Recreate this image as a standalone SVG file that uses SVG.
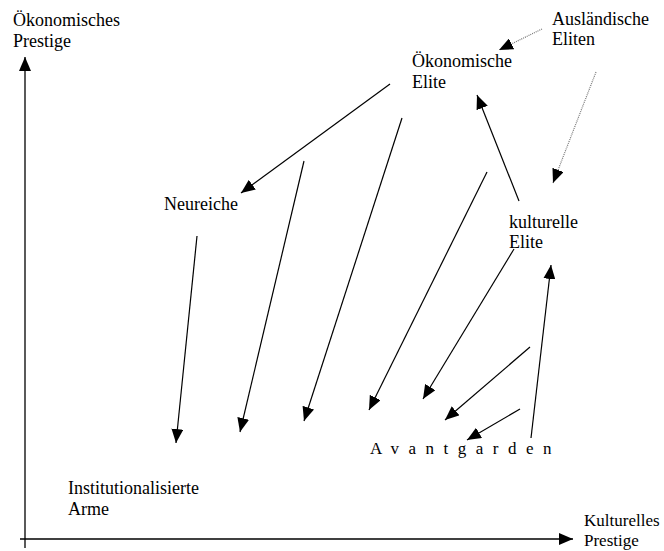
<svg xmlns="http://www.w3.org/2000/svg" width="664" height="551" viewBox="0 0 664 551">
<style>
text{font-family:"Liberation Serif","Times New Roman",serif;font-size:18px;fill:#000}
.c{stroke:#000;stroke-width:1.2;fill:none;marker-end:url(#ah)}
.d{stroke:#777;stroke-width:1.2;stroke-dasharray:1 1;fill:none;marker-end:url(#ah)}
.ax{stroke:#000;stroke-width:1.3;fill:none;marker-end:url(#ah)}
</style>
<defs>
<marker id="ah" viewBox="0 0 14 12" refX="14" refY="6" markerWidth="14" markerHeight="12" markerUnits="userSpaceOnUse" orient="auto">
<path d="M0,0 L14,6 L0,12 z" fill="#000"/>
</marker>
</defs>
<rect width="664" height="551" fill="#fff"/>
<g id="axes">
<line class="ax" x1="25" y1="548" x2="25" y2="57"/>
<line class="ax" x1="20" y1="539" x2="573" y2="539"/>
</g>
<g id="connectors">
<line class="d" x1="542" y1="29" x2="499" y2="50"/>
<line class="d" x1="596" y1="72" x2="553" y2="183"/>
<line class="c" x1="390" y1="84" x2="241" y2="193"/>
<line class="c" x1="402" y1="118" x2="304" y2="421"/>
<line class="c" x1="304" y1="161" x2="240" y2="432"/>
<line class="c" x1="197" y1="236" x2="176" y2="443"/>
<line class="c" x1="487" y1="172" x2="369" y2="410"/>
<line class="c" x1="519" y1="201" x2="477" y2="95"/>
<line class="c" x1="514" y1="249" x2="423" y2="399"/>
<line class="c" x1="530" y1="347" x2="445" y2="420"/>
<line class="c" x1="520" y1="409" x2="467" y2="440"/>
<line class="c" x1="531" y1="438" x2="551" y2="265"/>
</g>
<g id="y-label"><text x="13" y="26">Ökonomisches</text><text x="13" y="47">Prestige</text></g>
<g id="x-label" style="font-size:17px"><text x="584" y="526" style="font-size:17px">Kulturelles</text><text x="584" y="546" style="font-size:17px">Prestige</text></g>
<g id="auslaendische-eliten"><text x="552" y="25">Ausländische</text><text x="552" y="45">Eliten</text></g>
<g id="oekonomische-elite"><text x="412" y="67">Ökonomische</text><text x="412" y="88">Elite</text></g>
<g id="neureiche"><text x="164" y="210">Neureiche</text></g>
<g id="kulturelle-elite"><text x="509" y="228">kulturelle</text><text x="509" y="248">Elite</text></g>
<g id="avantgarden"><text x="370" y="454" style="font-size:17px;letter-spacing:9.5px">Avantgarden</text></g>
<g id="institutionalisierte-arme"><text x="68" y="494">Institutionalisierte</text><text x="68" y="515">Arme</text></g>
</svg>
